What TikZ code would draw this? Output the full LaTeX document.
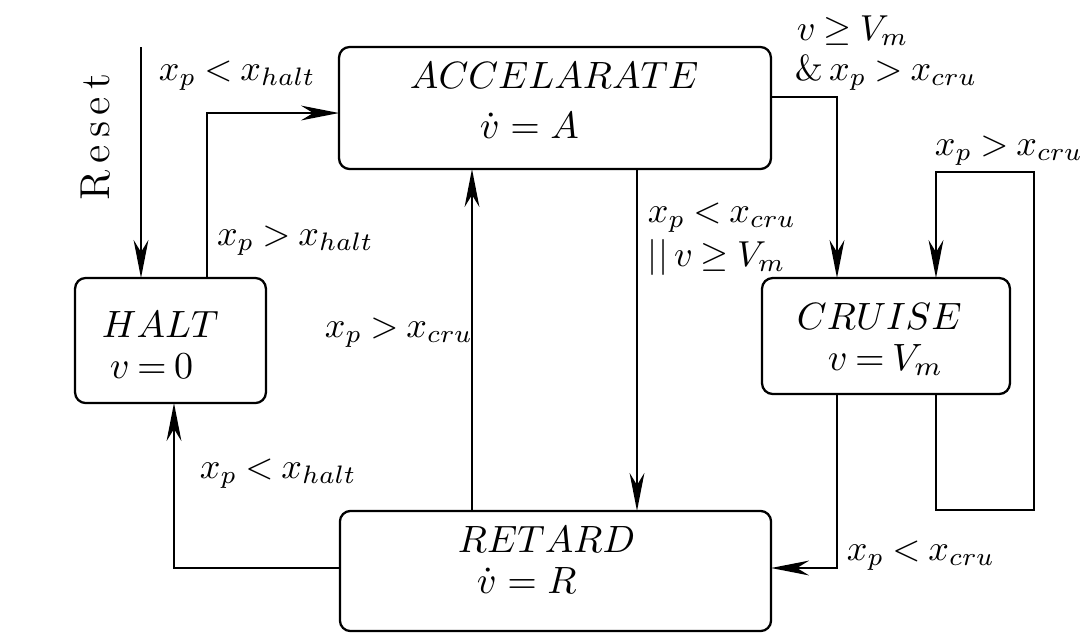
\documentclass[tikz,border=0pt]{standalone}
\usepackage{amsmath}
\usetikzlibrary{arrows.meta}
\newcommand\lbtext[1]{\scalebox{0.95}{$\thickmuskip=4mu\relax #1$}}
\begin{document}
\begin{tikzpicture}[x=0.263pt,y=-0.263pt,
  state/.style={draw,rounded corners=2.8pt,line width=0.6pt,inner sep=0pt,outer sep=0pt},
  txt/.style={inner sep=0pt,outer sep=0pt,anchor=base west},
  arr/.style={line width=0.6pt,-{Stealth[length=10pt,width=3.9pt,inset=3.2pt]}}]
\useasboundingbox (0,0) rectangle (1083,632);
% states
\node[state,minimum width=113.6pt,minimum height=32.1pt] (acc) at (555,108) {};
\node[state,minimum width=50.2pt,minimum height=32.9pt] (halt) at (170.5,340.5) {};
\node[state,minimum width=65.2pt,minimum height=30.5pt] (cru) at (886,336) {};
\node[state,minimum width=113.4pt,minimum height=31.6pt] (ret) at (555.5,571) {};
% state texts
\node[txt] (accT) at (410,88) {$ACCELARATE$};
\node[txt] (accE) at (480,138) {$\smash{\dot v} = A$};
\node[txt] (haltT) at (102,337) {$HALT$};
\node[txt,execute at begin node={\thickmuskip=3.5mu\relax}] (haltE) at (110,378) {$v = 0$};
\node[txt] (cruT) at (797,329) {$CRUISE$};
\node[txt,execute at begin node={\thickmuskip=3.5mu\relax}] (cruE) at (828,370) {$v = V_m$};
\node[txt] (retT) at (458,552) {$RETARD$};
\node[txt] (retE) at (477,593) {$\smash{\dot v} = R$};
% labels
\node[rotate=90,inner sep=0pt] (reset) at (96,137) {\fontsize{11}{13}\selectfont R\kern1.8pt e\kern1.8pt s\kern1.8pt e\kern1.8pt t};
\node[txt] (l1) at (159,80) {\lbtext{x_p < x_{halt}}};
\node[txt] (l2) at (217,245) {\lbtext{x_p > x_{halt}}};
\node[txt] (l3) at (325,337) {\lbtext{x_p > x_{cru}}};
\node[txt] (l4) at (200,478) {\lbtext{x_p < x_{halt}}};
\node[txt] (l5) at (797,40) {\lbtext{v \geq V_m}};
\node[txt] (l6) at (795,80) {\lbtext{\&\, x_p > x_{cru}}};
\node[txt] (l7) at (935,155) {\lbtext{x_p > x_{cru}}};
\node[txt] (l8) at (648,222) {\lbtext{x_p < x_{cru}}};
\node[txt] (l9) at (648,266) {\lbtext{||\, v \geq V_m}};
\node[txt] (l10) at (847,560) {\lbtext{x_p < x_{cru}}};
% helper coordinates
\coordinate (rs) at (141,47);
\coordinate (c1) at (207,113);
\coordinate (c2) at (472,0);
\coordinate (c3) at (637,0);
\coordinate (c4) at (837,97);
\coordinate (c5) at (936,510);
\coordinate (c6) at (1034,172);
\coordinate (c7) at (837,568);
\coordinate (c8) at (174,568);
% connectors
\draw[arr] (rs) -- (rs |- halt.north);
\draw[arr] (c1 |- halt.north) -- (c1) -- (c1 -| acc.west);
\draw[arr] (c2 |- ret.north) -- (c2 |- acc.south);
\draw[arr] (c3 |- acc.south) -- (c3 |- ret.north);
\draw[arr] (c4 -| acc.east) -- (c4) -- (c4 |- cru.north);
\draw[arr] (c5 |- cru.south) -- (c5) -- (c5 -| c6) -- (c6) -- (c6 -| c5) -- (c5 |- cru.north);
\draw[arr] (c7 |- cru.south) -- (c7) -- (c7 -| ret.east);
\draw[arr] (c8 -| ret.west) -- (c8) -- (c8 |- halt.south);
\end{tikzpicture}
\end{document}
